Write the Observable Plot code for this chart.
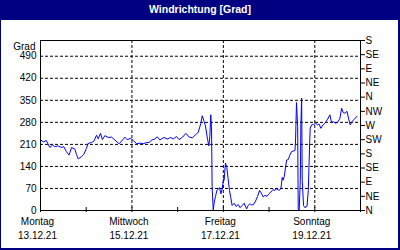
<!DOCTYPE html>
<html>
<head>
<meta charset="utf-8">
<script src="https://cdn.jsdelivr.net/npm/d3@7"></script>
<script src="https://cdn.jsdelivr.net/npm/@observablehq/plot@0.6"></script>
<style>
  html, body { margin: 0; padding: 0; background: #fff; }
  #box { position: relative; width: 400px; height: 250px; box-sizing: border-box;
         border-left: 1px solid #000080; border-right: 2px solid #000080; border-bottom: 2px solid #000080;
         background: #fff; overflow: hidden; }
  #title { height: 20px; background: #000080; color: #fff; font: bold 10.5px "Liberation Sans", Arial, sans-serif;
           text-align: center; line-height: 19px; margin-left: -1px; margin-right: -2px; }
  #chart svg { display: block; }
</style>
</head>
<body>
<div id="box">
  <div id="title">Windrichtung [Grad]</div>
  <div id="chart"></div>
</div>
<script>
const title = "Windrichtung [Grad]";
const yLabel = "Grad";
const startDate = "2021-12-13";
const endDate = "2021-12-20";

// hours since 13.12.21 00:00
const hours = [0,1.4,3.1,4.9,6.3,7.5,9.3,11.0,12.2,13.6,15.0,16.3,18.0,18.9,19.8,21.5,22.7,24.1,25.0,26.8,
  28.0,29.4,30.3,31.5,32.5,33.8,35.5,37.3,39.0,41.3,43.1,44.3,45.5,47.3,48.7,50.4,52.2,53.9,55.7,57.1,
  58.3,60.0,61.3,62.7,64.8,66.5,68.3,69.7,71.4,72.8,74.6,76.3,78.1,79.8,81.9,
  82.8,84.2,84.9,85.9,86.6,87.7,88.4,88.9,89.4,89.8,90.1,90.7,91.2,91.9,92.6,93.3,94.0,94.7,95.4,96.1,
  96.4,97.1,97.8,98.5,99.2,99.9,100.6,101.7,102.7,103.8,104.8,105.9,106.9,108.2,109.0,109.9,110.8,111.7,112.9,114.0,
  115.0,116.1,116.9,117.8,118.9,119.9,121.0,122.0,123.1,123.9,125.2,126.2,126.9,127.4,128.0,128.7,129.2,130.1,130.9,131.8,
  132.7,133.6,133.9,134.4,135.0,135.3,135.8,136.4,136.7,137.1,137.4,138.1,138.8,139.9,140.6,141.3,141.6,142.3,143.4,144.4,
  145.5,146.2,147.2,148.3,149.3,150.7,151.9,152.8,153.9,154.9,156.0,157.2,158.1,158.9,159.8,160.9,161.9,162.6,163.7,164.7,166.1];

// wind direction in degrees
const degrees = [225,218,222,200,208,203,205,200,203,187,176,200,195,178,164,171,178,197,213,216,
  220,239,228,245,225,238,232,233,224,212,224,233,225,229,223,212,214,212,216,216,
  224,227,234,224,232,227,232,227,235,225,233,245,233,231,244,
  248,277,301,283,269,226,205,235,304,256,75,0,27,45,64,67,73,53,69,101,
  96,151,137,101,64,41,16,23,13,19,9,16,23,5,16,21,18,18,30,45,
  64,53,43,48,45,53,59,66,64,69,64,69,105,96,109,139,160,162,176,187,
  189,190,224,343,267,5,0,96,277,357,96,16,9,13,64,213,261,272,273,277,
  272,275,261,272,277,290,304,280,282,277,280,293,325,311,309,315,288,272,283,290,299];

const dayNames = ["Montag", "Mittwoch", "Freitag", "Sonntag"];
const dayDates = ["13.12.21", "15.12.21", "17.12.21", "19.12.21"];
const majorTicks = ["2021-12-13", "2021-12-15", "2021-12-17", "2021-12-19"];
const dayTicks = ["2021-12-13","2021-12-14","2021-12-15","2021-12-16","2021-12-17","2021-12-18","2021-12-19","2021-12-20"];
const yTicks = [0, 70, 140, 210, 280, 350, 420, 490];
const compassDeg = [0, 45, 90, 135, 180, 225, 270, 315, 360, 405, 450, 495, 540];
const compassLabels = ["N","NE","E","SE","S","SW","W","NW","N","NE","E","SE","S"];

const t0 = Date.parse(startDate + "T00:00:00Z");
const data = hours.map((h, i) => ({date: new Date(t0 + h * 3600e3), deg: degrees[i]}));
const toDate = s => new Date(s + "T00:00:00Z");
const majors = majorTicks.map((s, i) => ({date: toDate(s), name: dayNames[i], d: dayDates[i]}));
const days = dayTicks.map(toDate);

const W = 397, H = 228;
const mT = 20, mB = 38, mL = 39, mR = 38;
const innerH = H - mT - mB, innerW = W - mL - mR;

const chart = Plot.plot({
  width: W, height: H,
  marginTop: mT, marginBottom: mB, marginLeft: mL, marginRight: mR,
  style: {fontFamily: "'Liberation Sans', Arial, sans-serif", fontSize: "10px", color: "black", background: "white", overflow: "visible"},
  x: {type: "utc", domain: [toDate(startDate), toDate(endDate)], axis: null, label: null},
  y: {domain: [0, 540], axis: null, label: null},
  marks: [
    Plot.gridY(yTicks.slice(1), {stroke: "black", strokeOpacity: 1, strokeDasharray: "3,2"}),
    Plot.gridX(majors.slice(1).map(d => d.date), {stroke: "black", strokeOpacity: 1, strokeDasharray: "3,2"}),
    Plot.tickX(days, {x: d => d, stroke: "black", insetTop: innerH - 3, insetBottom: -2}),
    Plot.axisY({anchor: "left", ticks: yTicks, tickSize: 0, tickPadding: 4, label: null}),
    Plot.axisY({anchor: "right", ticks: compassDeg, tickSize: 4, tickPadding: 1, label: null,
      tickFormat: d => compassLabels[compassDeg.indexOf(d)]}),
    Plot.text([yLabel], {frameAnchor: "top-left", text: d => d, textAnchor: "end", dx: -5, dy: 2}),
    Plot.text(majors, {x: "date", frameAnchor: "bottom", text: "name", dx: -3, dy: 14.5}),
    Plot.text(majors, {x: "date", frameAnchor: "bottom", text: "d", dx: -3, dy: 28.7}),
    Plot.line(data, {x: "date", y: "deg", stroke: "#0000ff", strokeWidth: 1, curve: "linear"}),
    Plot.frame({stroke: "black"})
  ]
});
document.getElementById("chart").appendChild(chart);
</script>
</body>
</html>
